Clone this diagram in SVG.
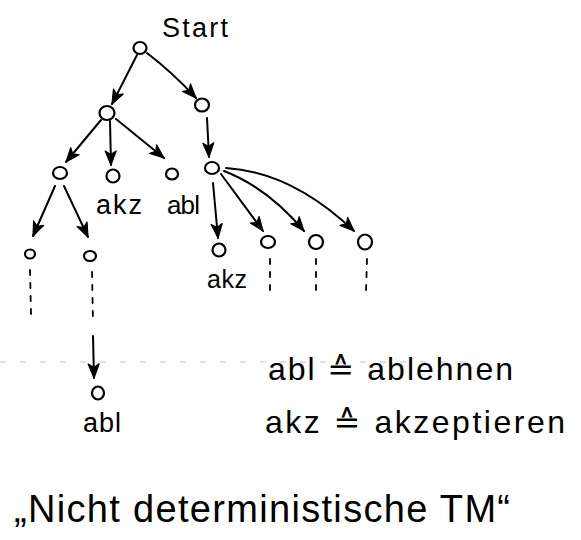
<svg xmlns="http://www.w3.org/2000/svg" width="581" height="540" viewBox="0 0 581 540">
  <style>
    .node { fill: none; stroke: #000; stroke-width: 2.2; }
    .edge { fill: none; stroke: #000; stroke-width: 2; stroke-linecap: round; }
    .dots { fill: none; stroke: #000; stroke-width: 1.8; stroke-dasharray: 5 8; stroke-linecap: round; }
    .hand { font-family: "Liberation Sans", "DejaVu Sans", sans-serif; fill: #000; }
    .guide { stroke: #c4c4c4; stroke-width: 1.2; stroke-dasharray: 6 14; }
  </style>
  <defs>
    <marker id="head" markerUnits="userSpaceOnUse" markerWidth="18" markerHeight="14" refX="15" refY="7" orient="auto">
      <path d="M1,1.5 L15,7 L1,12.5 L4.5,7 Z" fill="#000" stroke="#000" stroke-width="1.2" stroke-linejoin="round"/>
    </marker>
  </defs>

  <rect width="581" height="540" fill="#fff"/>

  <!-- faint ruling line of the paper -->
  <line class="guide" x1="0" y1="362" x2="470" y2="362"/>

  <!-- connectors -->
  <g id="connectors">
    <path class="edge" d="M137,55 L112,104" marker-end="url(#head)"/>
    <path class="edge" d="M147,53 Q172,72 196,98" marker-end="url(#head)"/>
    <path class="edge" d="M207,118 L209,157" marker-end="url(#head)"/>

    <path class="edge" d="M101,120 L66,162" marker-end="url(#head)"/>
    <path class="edge" d="M110,121 L111,165" marker-end="url(#head)"/>
    <path class="edge" d="M116,119 L164,158" marker-end="url(#head)"/>

    <path class="edge" d="M55,186 L33,236" marker-end="url(#head)"/>
    <path class="edge" d="M64,186 L88,237" marker-end="url(#head)"/>

    <path class="edge" d="M213,183 L218,238" marker-end="url(#head)"/>
    <path class="edge" d="M221,174 L263,231" marker-end="url(#head)"/>
    <path class="edge" d="M224,171 Q268,188 304,231" marker-end="url(#head)"/>
    <path class="edge" d="M226,168 Q292,172 354,231" marker-end="url(#head)"/>

    <!-- unfinished continuations -->
    <path class="dots" d="M30,270 L31,314"/>
    <path class="dots" d="M92,272 L93,322"/>
    <path class="edge" d="M93,336 L94,378" marker-end="url(#head)"/>
    <path class="dots" d="M270,259 L270,290"/>
    <path class="dots" d="M316,259 L316,290"/>
    <path class="dots" d="M367,259 L366,292"/>
  </g>

  <!-- nodes -->
  <g id="n-start">
    <text class="hand" x="162" y="37" font-size="27" textLength="66">Start</text>
    <ellipse class="node" cx="140" cy="48" rx="6.5" ry="6"/>
  </g>
  <g id="n-l"><ellipse class="node" cx="107" cy="113" rx="7.5" ry="7"/></g>
  <g id="n-r"><ellipse class="node" cx="202" cy="105" rx="7" ry="6.5"/></g>
  <g id="n-ll"><ellipse class="node" cx="60" cy="173" rx="7" ry="6"/></g>
  <g id="n-lm">
    <ellipse class="node" cx="113" cy="176" rx="6.5" ry="6.5"/>
    <text class="hand" x="96" y="214" font-size="27" textLength="46">akz</text>
  </g>
  <g id="n-lr">
    <ellipse class="node" cx="172" cy="174" rx="6" ry="5.5"/>
    <text class="hand" x="167" y="214" font-size="26" textLength="33">abl</text>
  </g>
  <g id="n-rr"><ellipse class="node" cx="212" cy="168" rx="7" ry="6"/></g>
  <g id="n-lll"><ellipse class="node" cx="30" cy="254" rx="5" ry="4.5"/></g>
  <g id="n-llr"><ellipse class="node" cx="90" cy="256" rx="6" ry="5"/></g>
  <g id="n-llrx">
    <ellipse class="node" cx="98" cy="393" rx="6" ry="6.5"/>
    <text class="hand" x="83" y="432" font-size="27" textLength="38">abl</text>
  </g>
  <g id="n-rr1">
    <ellipse class="node" cx="219" cy="250" rx="6.5" ry="6.5"/>
    <text class="hand" x="207" y="288" font-size="25" textLength="40">akz</text>
  </g>
  <g id="n-rr2"><ellipse class="node" cx="268" cy="242" rx="7" ry="6"/></g>
  <g id="n-rr3"><ellipse class="node" cx="316" cy="242" rx="7" ry="7"/></g>
  <g id="n-rr4"><ellipse class="node" cx="365" cy="242" rx="7" ry="7.5"/></g>

  <!-- legend -->
  <g id="legend">
    <text class="hand" x="268" y="380" font-size="32" textLength="245">abl ≙ ablehnen</text>
    <text class="hand" x="265" y="433" font-size="32" textLength="300">akz ≙ akzeptieren</text>
  </g>

  <!-- caption -->
  <g id="caption">
    <text class="hand" x="14" y="522" font-size="38" textLength="496">„Nicht deterministische TM“</text>
  </g>
</svg>
